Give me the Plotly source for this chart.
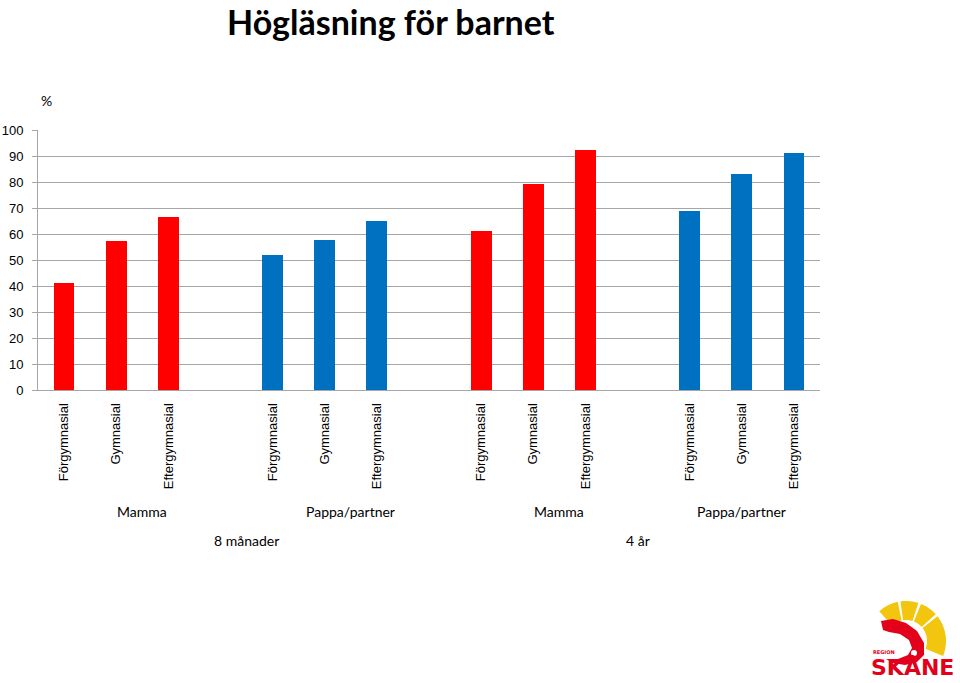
import math
import plotly.graph_objects as go

# ---------------- data ----------------
levels = ["Förgymnasial", "Gymnasial", "Eftergymnasial"]
parents = ["Mamma", "Pappa/partner", "Mamma", "Pappa/partner"]
ages = ["8 månader", "4 år"]
mamma_8m = [41.0, 57.2, 66.4]
pappa_8m = [52.0, 57.7, 65.1]
mamma_4y = [61.3, 79.3, 92.3]
pappa_4y = [68.8, 82.9, 91.2]
series = [mamma_8m, pappa_8m, mamma_4y, pappa_4y]
y_ticks = [0, 10, 20, 30, 40, 50, 60, 70, 80, 90, 100]
title_text = "Högläsning för barnet"
unit_text = "%"

colors = {"Mamma": "#FF0000", "Pappa/partner": "#0070C0"}
GRID = "#A6A6A6"

# plot area in pixels
L, R, T, B = 38, 820, 130, 390
W, H = 960, 683

SLOT = len(levels) + 1  # each group has a trailing blank category
n_slots = SLOT * len(parents) - 1

fig = go.Figure()
tickvals, ticktext = [], []
for g, (par, vals) in enumerate(zip(parents, series)):
    xs = [g * SLOT + i for i in range(len(levels))]
    tickvals += xs
    ticktext += levels
    fig.add_trace(go.Bar(x=xs, y=vals, width=0.4, marker=dict(color=colors[par], line=dict(width=0)),
                         showlegend=False, hoverinfo="y"))


def px(x, y):
    return (x - L) / (R - L), (B - y) / (B - T)


annotations = []
lab_font = dict(family="Lato, Liberation Sans, sans-serif", size=14, color="black")
for g, par in enumerate(parents):
    start = g * SLOT
    end = min(g * SLOT + SLOT - 1, n_slots - 1)
    annotations.append(dict(x=(start + end) / 2, xref="x", y=px(0, 511)[1], yref="paper",
                            text=par, showarrow=False, font=lab_font, yanchor="middle"))
per_age = len(parents) // len(ages)
for a, age in enumerate(ages):
    start = a * per_age * SLOT
    end = min((a + 1) * per_age * SLOT - 1, n_slots - 1)
    annotations.append(dict(x=(start + end) / 2, xref="x", y=px(0, 540)[1], yref="paper",
                            text=age, showarrow=False, font=lab_font, yanchor="middle"))

tx, ty = px(391, 0)
annotations.append(dict(x=tx, y=ty, xref="paper", yref="paper", text="<b>" + title_text + "</b>",
                        showarrow=False, xanchor="center", yanchor="top", borderpad=0,
                        font=dict(family="Lato, Liberation Sans, sans-serif", size=34, color="black")))
ux, uy = px(46, 101)
annotations.append(dict(x=ux, y=uy, xref="paper", yref="paper", text=unit_text, showarrow=False,
                        xanchor="center", yanchor="middle", font=lab_font))

# ---- logo (approximation) ----
shapes = []


def poly_path(points):
    pts = [px(x, y) for x, y in points]
    return "M " + " L ".join(f"{x:.5f},{y:.5f}" for x, y in pts) + " Z"


cx, cy, r_in, r_out = 906, 641, 21, 40
for a0, a1 in [(102, 132), (72, 98), (42, 68), (-22, 38)]:
    pts = []
    for k in range(13):
        ang = math.radians(a0 + (a1 - a0) * k / 12)
        pts.append((cx + r_out * math.cos(ang), cy - r_out * math.sin(ang)))
    for k in range(13):
        ang = math.radians(a1 - (a1 - a0) * k / 12)
        pts.append((cx + r_in * math.cos(ang), cy - r_in * math.sin(ang)))
    shapes.append(dict(type="path", path=poly_path(pts), xref="paper", yref="paper",
                       fillcolor="#F2C50E", line=dict(width=0), layer="above"))

red_pts = [(881, 621), (893, 619), (906, 623), (917, 631), (924, 643), (924, 655), (917, 662),
           (905, 665), (893, 663), (886, 659), (898, 659), (908, 655), (912, 648), (909, 640),
           (900, 634), (889, 632), (883, 630)]
shapes.append(dict(type="path", path=poly_path(red_pts), xref="paper", yref="paper",
                   fillcolor="#E2001A", line=dict(width=0), layer="above"))
ex0, ey0 = px(911, 650)
ex1, ey1 = px(917, 656)
shapes.append(dict(type="circle", x0=ex0, y0=ey1, x1=ex1, y1=ey0, xref="paper", yref="paper",
                   fillcolor="white", line=dict(width=0), layer="above"))

rx, ry = px(871, 652)
annotations.append(dict(x=rx, y=ry, xref="paper", yref="paper", text="<b>REGION</b>", showarrow=False,
                        xanchor="left", yanchor="middle",
                        font=dict(family="DejaVu Sans", size=5, color="#E2001A")))
sx, sy = px(912, 668)
annotations.append(dict(x=sx, y=sy, xref="paper", yref="paper", text="<b>SKÅNE</b>", showarrow=False,
                        xanchor="center", yanchor="middle",
                        font=dict(family="DejaVu Sans", size=22, color="#E2001A")))

fig.update_layout(
    width=W, height=H,
    margin=dict(l=L, r=W - R, t=T, b=H - B, pad=0, autoexpand=False),
    paper_bgcolor="white", plot_bgcolor="white",
    bargap=0, showlegend=False,
    annotations=annotations, shapes=shapes,
    xaxis=dict(range=[-0.5, n_slots - 0.5], tickmode="array", tickvals=tickvals, ticktext=ticktext,
               tickangle=-90, showgrid=False, zeroline=False, showline=True, linecolor=GRID, linewidth=1,
               ticks="", ticklabelstandoff=7, automargin=False,
               tickfont=dict(family="Liberation Sans, Arial, sans-serif", size=13, color="black")),
    yaxis=dict(range=[0, 100], tickmode="array", tickvals=y_ticks, showgrid=True, gridcolor=GRID,
               gridwidth=1, zeroline=False, showline=True, linecolor=GRID, linewidth=1,
               ticks="outside", ticklen=5, tickcolor=GRID, ticklabelstandoff=6, automargin=False,
               tickfont=dict(family="Liberation Sans, Arial, sans-serif", size=13, color="black")),
)

fig.write_html("out.html")
